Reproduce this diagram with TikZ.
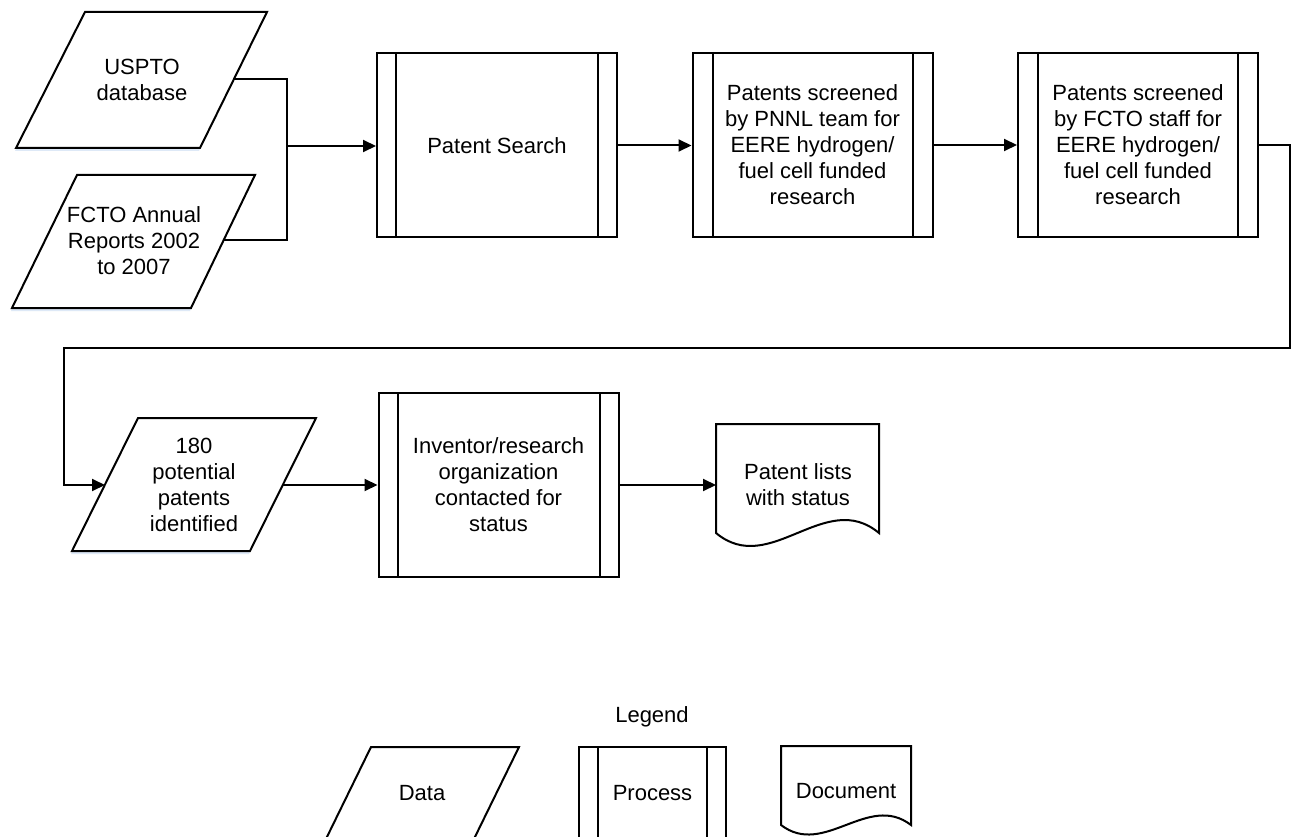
\documentclass[tikz,border=0pt]{standalone}
\usepackage{fontspec}
\setmainfont{Liberation Sans}
\usetikzlibrary{arrows.meta}
\newcommand\dfont{\fontsize{22}{26}\selectfont}
\definecolor{glow}{RGB}{222,233,247}
\tikzset{
  procbox/.style={draw, fill=white, minimum width=240pt, minimum height=184pt, align=center, font=\dfont, inner sep=0pt},
  legbox/.style={draw, fill=white, minimum width=147pt, minimum height=92pt, align=center, font=\dfont, inner sep=0pt},
  txt/.style={align=center, font=\dfont, inner sep=0pt},
  arr/.style={-{Triangle[length=13pt,width=12pt]}},
  conn/.style={line width=2pt},
  shp/.style={line width=2pt, line join=miter},
  glowsh/.style={fill=glow, draw=none},
}
\newcommand\procinner[2]{%
  \draw[shp] ([xshift=#2]#1.north west) -- ([xshift=#2]#1.south west);
  \draw[shp] ([xshift=-#2]#1.north east) -- ([xshift=-#2]#1.south east);}
\begin{document}
\begin{tikzpicture}[x=1pt,y=-1pt, line width=2pt]
\clip (0,0) rectangle (1291,837);
\fill[white] (0,0) rectangle (1291,837);

% ---------- data shapes (parallelograms) ----------
\fill[glowsh] (84,15) -- (266,15) -- (199,151) -- (15,151) -- cycle;
\draw[shp, fill=white] (85,12) -- (267,12) -- (200,148) -- (16,148) -- cycle;
\node[txt] (uspto) at (142,80) {USPTO\\database};

\fill[glowsh] (76,178) -- (254,178) -- (190,311) -- (11,311) -- cycle;
\draw[shp, fill=white] (77,175) -- (255,175) -- (191,308) -- (12,308) -- cycle;
\node[txt] (fcto) at (134,241) {FCTO Annual\\Reports 2002\\to 2007};

\fill[glowsh] (137,421) -- (315,421) -- (249,554) -- (71,554) -- cycle;
\draw[shp, fill=white] (138,418) -- (316,418) -- (250,551) -- (72,551) -- cycle;
\node[txt] (pot) at (194,485) {180\\potential\\patents\\identified};

\coordinate (uspto-e) at (234,79);
\coordinate (fcto-e) at (224,240);
\coordinate (join) at (287,146);
\coordinate (pot-w) at (105,485);
\coordinate (pot-e) at (283,485);

% ---------- process shapes ----------
\node[procbox] (ps) at (497,145.5) {Patent Search};
\procinner{ps}{20pt}
\node[procbox] (pnnl) at (812.5,145) {Patents screened\\by PNNL team for\\EERE hydrogen/\\fuel cell funded\\research};
\procinner{pnnl}{21pt}
\node[procbox] (fs) at (1138,145) {Patents screened\\by FCTO staff for\\EERE hydrogen/\\fuel cell funded\\research};
\procinner{fs}{21pt}
\node[procbox] (inv) at (498.5,485) {Inventor/research\\organization\\contacted for\\status};
\procinner{inv}{20pt}

% ---------- document shape ----------
\draw[shp, fill=white] (716,533) .. controls (770,578) and (825,488) .. (879,533) -- (879,424) -- (716,424) -- cycle;
\node[txt] (doc) at (798,485) {Patent lists\\with status};
\coordinate (doc-w) at (716,485);

% ---------- connectors ----------
\draw[conn] (uspto-e) -- (uspto-e -| join) -- (fcto-e -| join) -- (fcto-e);
\draw[conn, arr] (join) -- (join -| ps.west);
\draw[conn, arr] (ps.east) -- (ps.east -| pnnl.west);
\draw[conn, arr] (pnnl.east) -- (fs.west);
\coordinate (rtop) at (1290,145);
\coordinate (rbot) at (1290,348);
\coordinate (lbot) at (64,348);
\draw[conn, arr] (fs.east) -- (rtop) -- (rbot) -- (lbot) |- (pot-w);
\draw[conn, arr] (pot-e) -- (pot-e -| inv.west);
\draw[conn, arr] (inv.east) -- (doc-w);

% ---------- legend ----------
\node[txt] (legend) at (652,717) {Legend};

\fill[glowsh] (370,750) -- (518,750) -- (471,846) -- (323,846) -- cycle;
\draw[shp, fill=white] (371,747) -- (519,747) -- (472,843) -- (324,843) -- cycle;
\node[txt] (ldata) at (422,793) {Data};

\node[legbox] (lproc) at (652.5,793) {Process};
\procinner{lproc}{20pt}

\draw[shp, fill=white] (781,825) .. controls (824,858) and (868,792) .. (911,825) -- (911,746) -- (781,746) -- cycle;
\node[txt] (ldoc) at (846,791) {Document};
\end{tikzpicture}
\end{document}
